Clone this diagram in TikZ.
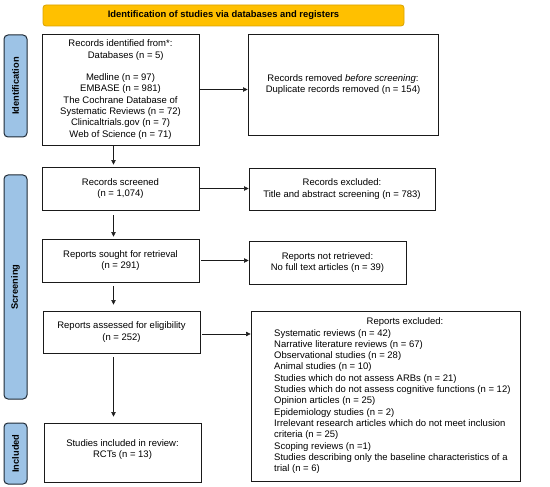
\documentclass[tikz,border=0pt]{standalone}
\usepackage{fontspec}
\setmainfont{Liberation Sans}
\usetikzlibrary{arrows.meta,calc}
\definecolor{bannerfill}{HTML}{FFC000}
\definecolor{bannerdraw}{HTML}{D9A200}
\definecolor{sidefill}{HTML}{9DC3E6}
\definecolor{sidedraw}{HTML}{1F2A36}
\definecolor{boxdraw}{HTML}{1A1A1A}
\tikzset{
  txt/.style={font=\fontsize{9.5}{11.3}\selectfont},
  box/.style={draw=boxdraw, line width=0.9pt, fill=white, inner sep=0pt, align=center, txt},
  side/.style={draw=sidedraw, fill=sidefill, line width=1pt, rounded corners=4pt, inner sep=0pt, minimum width=23pt},
  sidetxt/.style={rotate=90, font=\fontsize{9.3}{10}\selectfont\bfseries},
  banner/.style={draw=bannerdraw, fill=bannerfill, line width=0.8pt, rounded corners=3pt, inner sep=0pt, font=\fontsize{9.4}{10}\selectfont\bfseries},
  arr/.style={-{Triangle[width=4.5pt,length=4.5pt]}, line width=0.6pt, draw=boxdraw}
}
\begin{document}
\begin{tikzpicture}[x=1pt,y=-1pt]
\useasboundingbox (0,0) rectangle (550,487);
% banner
\node[banner, minimum width=361pt, minimum height=21pt] (ban) at (223.5,15.5) {Identification of studies via databases and registers};
% side labels
\node[side, minimum height=102pt] (sid) at (15.5,86) {};
\node[sidetxt] (sidt) at (sid.center) {Identification};
\node[side, minimum height=224pt] (sscr) at (15.5,287) {};
\node[sidetxt] (sscrt) at (sscr.center) {Screening};
\node[side, minimum height=61pt] (sinc) at (15.5,453.5) {};
\node[sidetxt] (sinct) at (sinc.center) {Included};
% boxes
\node[box, minimum width=157pt, minimum height=111pt] (b1) at (120.5,89.5) {Records identified from*:\\ \ \ \ \ Databases (n = 5)\\[11.3pt] Medline (n = 97)\\ EMBASE (n = 981)\\ The Cochrane Database of\\ Systematic Reviews (n = 72)\\ Clinicaltrials.gov (n = 7)\\ Web of Science (n = 71)};
\node[box, minimum width=190pt, minimum height=101pt] (rem) at (343,84.5) {Records removed \textit{before screening}:\\ Duplicate records removed (n = 154)};
\node[box, minimum width=157pt, minimum height=43pt] (scr) at (120.5,188.5) {Records screened\\ (n = 1,074)};
\node[box, minimum width=186pt, minimum height=42pt] (exc) at (342,189) {Records excluded:\\ Title and abstract screening (n = 783)};
\node[box, minimum width=157pt, minimum height=43pt] (sou) at (120.5,260.5) {Reports sought for retrieval\\ (n = 291)};
\node[box, minimum width=157pt, minimum height=43pt] (nre) at (327.5,262.5) {Reports not retrieved:\\ No full text articles (n = 39)};
\node[box, minimum width=157pt, minimum height=42pt] (ass) at (121.5,332) {Reports assessed for eligibility\\ (n = 252)};
\node[box, minimum width=269pt, minimum height=170pt] (rex) at (385.5,396) {};
\node[txt, inner sep=0pt] (rexh) at (405,322.5) {Reports excluded:};
\node[txt, inner sep=0pt, align=left, anchor=north west] (rexl) at (274,329) {Systematic reviews (n = 42)\\ Narrative literature reviews (n = 67)\\ Observational studies (n = 28)\\ Animal studies (n = 10)\\ Studies which do not assess ARBs (n = 21)\\ Studies which do not assess cognitive functions (n = 12)\\ Opinion articles (n = 25)\\ Epidemiology studies (n = 2)\\ Irrelevant research articles which do not meet inclusion\\ criteria (n = 25)\\ Scoping reviews (n =1)\\ Studies describing only the baseline characteristics of a\\ trial (n = 6)};
\node[box, minimum width=157pt, minimum height=59pt] (inc) at (122.5,452.5) {Studies included in review:\\ RCTs (n = 13)\\[-3pt]\mbox{}};
% arrows
\coordinate (ax) at (113.5,0);
\draw[arr] (b1.east) -- (b1.east -| rem.west);
\draw[arr] (scr.east) -- (scr.east -| exc.west);
\draw[arr] ([xshift=2pt]sou.east) -- (sou.east -| nre.west);
\draw[arr] ([xshift=2pt,yshift=-2pt]ass.east) -- ([yshift=-2pt]ass.east -| rex.west);
\draw[arr, shorten >=2pt] (b1.south -| ax) -- (scr.north -| ax);
\draw[arr, shorten <=5pt, shorten >=2pt] (scr.south -| ax) -- (sou.north -| ax);
\draw[arr, shorten <=4pt, shorten >=6pt] (sou.south -| ax) -- (ass.north -| ax);
\draw[arr, shorten <=4pt, shorten >=6pt] (ass.south -| ax) -- (inc.north -| ax);
\end{tikzpicture}
\end{document}
